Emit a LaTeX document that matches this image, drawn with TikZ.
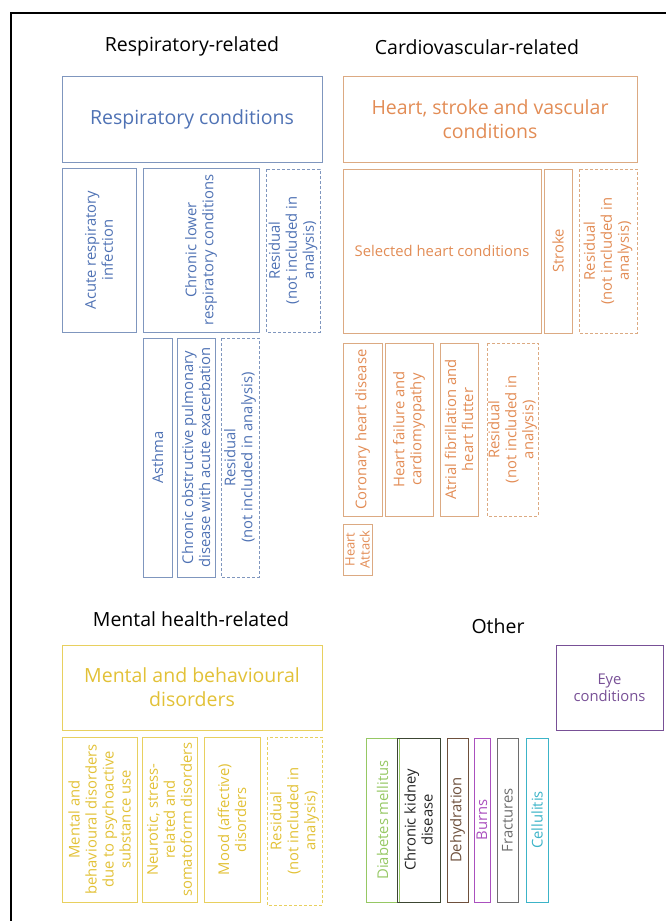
\documentclass[tikz,border=0pt]{standalone}
\usepackage{fontspec}
\setmainfont{Open Sans}
\definecolor{resptext}{RGB}{79,114,180}
\definecolor{respline}{RGB}{127,150,190}
\definecolor{cardtext}{RGB}{226,140,85}
\definecolor{cardline}{RGB}{220,170,130}
\definecolor{menttext}{RGB}{226,193,55}
\definecolor{mentline}{RGB}{232,208,95}
\definecolor{diabcol}{RGB}{150,200,100}
\definecolor{ckdline}{RGB}{60,70,50}
\definecolor{dehycol}{RGB}{110,80,60}
\definecolor{burncol}{RGB}{170,80,190}
\definecolor{fraccol}{RGB}{110,110,110}
\definecolor{cellcol}{RGB}{60,180,200}
\definecolor{eyecol}{RGB}{120,80,150}
\tikzset{
  bbox/.style={draw, line width=1pt, inner sep=0pt, align=center},
  bigtxt/.style={font=\fontsize{19.5}{24}\selectfont},
  smalltxt/.style={font=\fontsize{14.8}{17}\selectfont},
  tinytxt/.style={font=\fontsize{13}{15}\selectfont},
  titletxt/.style={font=\fontsize{19.5}{22}\selectfont, text=black, inner sep=0pt},
  resp/.style={bbox, draw=respline, text=resptext},
  card/.style={bbox, draw=cardline, text=cardtext},
  ment/.style={bbox, draw=mentline, text=menttext},
  resid/.style={dashed, dash pattern=on 3pt off 2pt},
  vert/.style={rotate=90},
}
\begin{document}
\begin{tikzpicture}[x=1pt,y=-1pt]
\useasboundingbox (0,0) rectangle (665,921);
\draw[line width=2pt] (11,930) -- (11,13) -- (670,13);

% titles
\node[titletxt] (t1) at (192,46) {Respiratory-related};
\node[titletxt] (t2) at (477,47) {Cardiovascular-related};
\node[titletxt] (t3) at (191,619) {Mental health-related};
\node[titletxt] (t4) at (498,626) {Other};

% respiratory
\node[resp, bigtxt, minimum width=260pt, minimum height=86pt] (rmain) at (192,119) {Respiratory conditions};
\node[resp, smalltxt, vert, minimum width=164pt, minimum height=74pt] (racute) at (99,250) {Acute respiratory\\infection};
\node[resp, smalltxt, vert, minimum width=164pt, minimum height=116pt] (rchron) at (201,250) {Chronic lower\\respiratory conditions};
\node[resp, resid, smalltxt, vert, minimum width=163pt, minimum height=54pt] (rres1) at (293,250.5) {Residual\\(not included in\\analysis)};
\node[resp, smalltxt, vert, minimum width=239pt, minimum height=29pt] (rasth) at (157.5,457.5) {Asthma};
\node[resp, smalltxt, vert, minimum width=239pt, minimum height=38pt] (rcopd) at (196,457.5) {Chronic obstructive pulmonary\\disease with acute exacerbation};
\node[resp, resid, smalltxt, vert, minimum width=239pt, minimum height=38pt] (rres2) at (240,457.5) {Residual\\(not included in analysis)};

% cardiovascular
\node[card, bigtxt, minimum width=294pt, minimum height=86pt] (cmain) at (490,119) {Heart, stroke and vascular\\conditions};
\node[card, smalltxt, minimum width=198pt, minimum height=164pt] (csel) at (442,251) {Selected heart conditions};
\node[card, smalltxt, vert, minimum width=164pt, minimum height=28pt] (cstroke) at (558,251) {Stroke};
\node[card, resid, smalltxt, vert, minimum width=164pt, minimum height=58pt] (cres1) at (608,251) {Residual\\(not included in\\analysis)};
\node[card, smalltxt, vert, minimum width=173pt, minimum height=39pt] (ccor) at (362.5,429.5) {Coronary heart disease};
\node[card, smalltxt, vert, minimum width=173pt, minimum height=48pt] (cfail) at (409,429.5) {Heart failure and\\cardiomyopathy};
\node[card, smalltxt, vert, minimum width=173pt, minimum height=38pt] (catr) at (459,429.5) {Atrial fibrillation and\\heart flutter};
\node[card, resid, smalltxt, vert, minimum width=173pt, minimum height=51pt] (cres2) at (512.5,429.5) {Residual\\(not included in\\analysis)};
\node[card, tinytxt, vert, minimum width=51pt, minimum height=29pt] (cha) at (357.5,549.5) {Heart\\Attack};

% mental health
\node[ment, bigtxt, minimum width=260pt, minimum height=85pt] (mmain) at (192,687.5) {Mental and behavioural\\disorders};
\node[ment, smalltxt, vert, minimum width=165pt, minimum height=75pt] (m1) at (99.5,819.5) {Mental and\\behavioural disorders\\due to psychoactive\\substance use};
\node[ment, smalltxt, vert, minimum width=165pt, minimum height=55pt] (m2) at (169.5,819.5) {Neurotic, stress-\\related and\\somatoform disorders};
\node[ment, smalltxt, vert, minimum width=165pt, minimum height=56pt] (m3) at (232,819.5) {Mood (affective)\\disorders};
\node[ment, resid, smalltxt, vert, minimum width=168pt, minimum height=55pt] (mres) at (294.5,821) {Residual\\(not included in\\analysis)};

% other
\node[bbox, smalltxt, draw=eyecol, text=eyecol, minimum width=107pt, minimum height=85pt] (eye) at (609.5,687.5) {Eye\\conditions};
\node[bbox, smalltxt, vert, draw=diabcol, text=diabcol, minimum width=164pt, minimum height=33pt] (diab) at (382.5,820) {Diabetes mellitus};
\node[bbox, smalltxt, vert, draw=ckdline, text=black!85, minimum width=164pt, minimum height=43pt] (ckd) at (418.5,820) {Chronic kidney\\disease};
\node[bbox, smalltxt, vert, draw=dehycol, text=dehycol, minimum width=164pt, minimum height=21pt] (dehy) at (457.5,820) {Dehydration};
\node[bbox, smalltxt, vert, draw=burncol, text=burncol, minimum width=164pt, minimum height=16pt] (burn) at (482,820) {Burns};
\node[bbox, smalltxt, vert, draw=fraccol, text=fraccol, minimum width=164pt, minimum height=21pt] (frac) at (507.5,820) {Fractures};
\node[bbox, smalltxt, vert, draw=cellcol, text=cellcol, minimum width=164pt, minimum height=22pt] (cell) at (537,820) {Cellulitis};
\end{tikzpicture}
\end{document}
